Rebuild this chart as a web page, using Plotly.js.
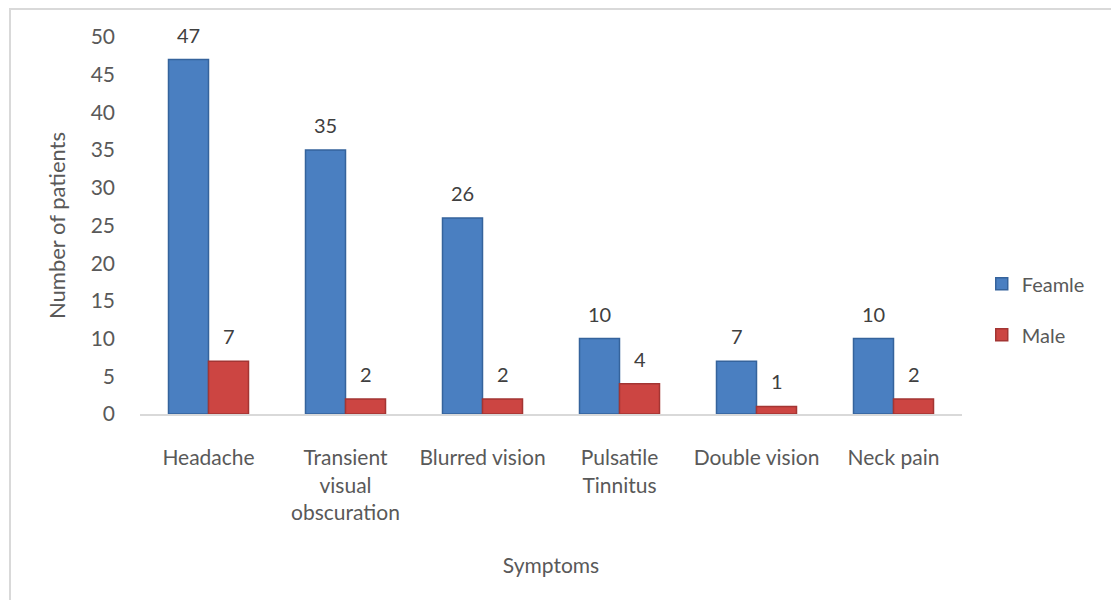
<!DOCTYPE html>
<html>
<head>
<meta charset="utf-8">
<script src="https://cdn.plot.ly/plotly-3.0.1.min.js"></script>
<style>
  html, body { margin: 0; padding: 0; background: #fff; }
  #wrap { position: relative; width: 1111px; height: 600px; }
  #chart { width: 1111px; height: 600px; }
  #frame { position: absolute; left: 9px; top: 8px; width: 1200px; height: 700px;
           border-left: 2px solid #d9d9d9; border-top: 2px solid #d9d9d9; pointer-events: none; }
</style>
</head>
<body>
<div id="wrap"><div id="chart"></div><div id="frame"></div></div>
<script>
const categories = ["Headache", "Transient<br>visual<br>obscuration", "Blurred vision", "Pulsatile<br>Tinnitus", "Double vision", "Neck pain"];
const femaleValues = [47, 35, 26, 10, 7, 10];
const maleValues = [7, 2, 2, 4, 1, 2];
const seriesNames = ["Feamle", "Male"];
const yTicks = [0, 5, 10, 15, 20, 25, 30, 35, 40, 45, 50];

const FONT = "Lato, 'Open Sans', sans-serif";
const GREY = "#595959";

const traces = [
  {
    type: "bar", name: seriesNames[0], x: categories, y: femaleValues,
    legendgroup: "f",
    marker: { color: "#4a7fc1", line: { color: "#35639c", width: 1.5 } },
    hoverinfo: "y"
  },
  {
    type: "bar", name: seriesNames[1], x: categories, y: maleValues,
    legendgroup: "m",
    marker: { color: "#cc4542", line: { color: "#a33533", width: 1.5 } },
    hoverinfo: "y"
  }
];

const annotations = [];
[femaleValues, maleValues].forEach((vals, si) => {
  vals.forEach((v, i) => {
    annotations.push({
      x: categories[i], y: v, xref: "x", yref: "y",
      text: String(v), showarrow: false,
      xshift: si === 0 ? -20 : 20, yshift: 11, yanchor: "bottom",
      font: { family: FONT, size: 20, color: "#404040" }
    });
  });
});

const layout = {
  width: 1111, height: 600,
  paper_bgcolor: "#fff", plot_bgcolor: "#fff",
  margin: { l: 140, r: 149, t: 37, b: 186 },
  barmode: "group", bargap: 0.416, bargroupgap: 0,
  font: { family: FONT, size: 21, color: GREY },
  xaxis: {
    type: "category",
    showline: true, linecolor: "#d9d9d9", linewidth: 2,
    showgrid: false, zeroline: false, ticks: "", ticklabelstandoff: 24,
    tickfont: { family: FONT, size: 21, color: GREY },
    title: { text: "Symptoms", standoff: 36, font: { family: FONT, size: 21, color: GREY } },
    automargin: false
  },
  yaxis: {
    range: [0, 50], tickvals: yTicks, ticktext: yTicks.map(String),
    showline: false, showgrid: false, zeroline: false, ticks: "",
    ticklabelstandoff: 24,
    tickfont: { family: FONT, size: 21, color: GREY },
    title: { text: "Number of patients", standoff: 18, font: { family: FONT, size: 22, color: GREY } },
    automargin: false
  },
  legend: {
    x: 1.024, xanchor: "left", y: 0.278, yanchor: "middle",
    traceorder: "grouped", tracegroupgap: 22,
    font: { family: FONT, size: 20, color: GREY },
    bgcolor: "rgba(0,0,0,0)"
  },
  annotations: annotations,
  showlegend: true
};

Plotly.newPlot("chart", traces, layout, { displayModeBar: false, staticPlot: true });
</script>
</body>
</html>
